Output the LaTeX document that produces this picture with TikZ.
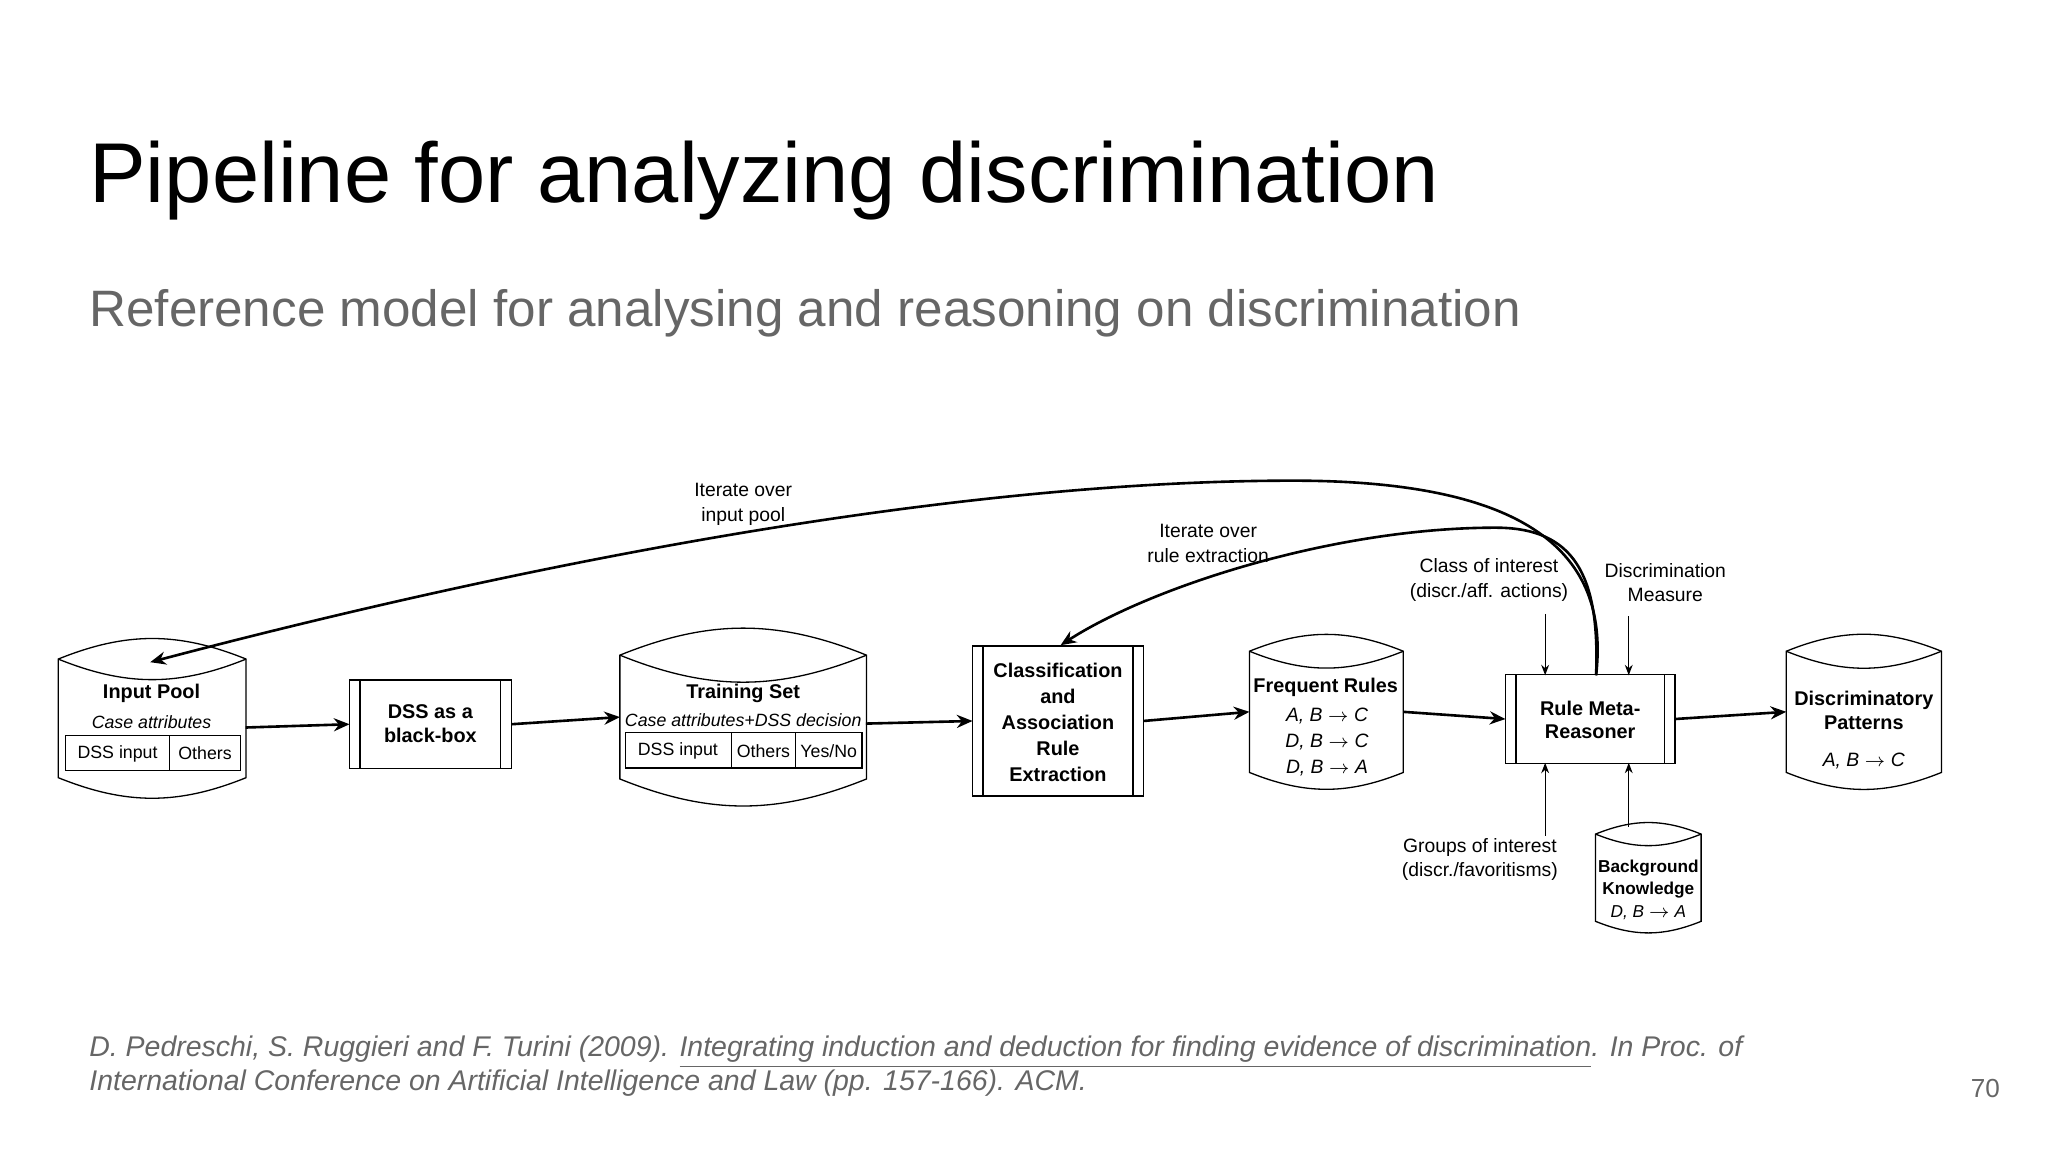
\documentclass[tikz,border=0pt]{standalone}
\usepackage{fontspec}
\setmainfont{Liberation Sans}
\usetikzlibrary{arrows.meta,calc}
\definecolor{gr}{HTML}{666666}
\begin{document}
\begin{tikzpicture}[x=0.5pt,y=-0.5pt,
  box/.style n args={2}{draw=none,inner sep=0,minimum width=#1*0.5pt,minimum height=#2*0.5pt},
  lbl/.style={font=\fontsize{7.6}{9}\selectfont\bfseries,align=center,inner sep=0},
  sub/.style={font=\fontsize{6.8}{8.5}\selectfont,align=center,inner sep=0},
  main/.style={line width=1pt,-{Stealth[length=6pt,width=5pt]}},
  thin/.style={line width=0.5pt,-{Stealth[length=4pt,width=3pt]}},
  outl/.style={line width=0.5pt}]
\useasboundingbox (0,0) rectangle (1568,882);
% title
\node[anchor=base west,inner sep=0,font=\fontsize{32.5}{38}\selectfont] (title) at (68,155) {Pipeline for analyzing discrimination};
\node[anchor=base west,inner sep=0,text=gr,font=\fontsize{19.6}{23}\selectfont] (subt) at (68,250) {Reference model for analysing and reasoning on discrimination};
\node[anchor=base west,inner sep=0,text=gr,align=left,font=\fontsize{10.9}{13}\selectfont\itshape] (foot) at (68,835) {D. Pedreschi, S. Ruggieri and F. Turini (2009). \underline{Integrating induction and deduction for finding evidence of discrimination}. In Proc. of\\International Conference on Artificial Intelligence and Law (pp. 157-166). ACM.};
\node[anchor=base,inner sep=0,text=gr,font=\fontsize{10}{12}\selectfont] (pg) at (1520,840) {70};
% helpers
\newcommand{\drumdraw}[1]{\draw[outl] (#1.north west) to[bend left=22] (#1.north east) -- (#1.south east) to[bend left=22] (#1.south west) -- cycle;
 \draw[outl] (#1.north west) to[bend right=22] (#1.north east);}
\newcommand{\procdraw}[1]{\draw[outl] (#1.north west) rectangle (#1.south east);
 \draw[outl] ($(#1.north west)+(8,0)$) -- ($(#1.south west)+(8,0)$);
 \draw[outl] ($(#1.north east)+(-8,0)$) -- ($(#1.south east)+(-8,0)$);}
% Input pool
\node[box={143}{90}] (ip) at (116.5,550) {}; \drumdraw{ip}
\node[lbl] (ipt) at (116,531) {Input Pool};
\node[sub,font=\fontsize{6.8}{8}\selectfont\itshape] (ipc) at (116,553) {Case attributes};
\draw[outl] (50,563) rectangle (184,590); \draw[outl] (130,563)--(130,590);
\node[sub] (ipd) at (90,577) {DSS input}; \node[sub] (ipo) at (157,577) {Others};
% DSS
\node[box={123}{67}] (dss) at (329.5,554.5) {}; \procdraw{dss}
\node[lbl] (dsst) at (329.5,554) {DSS as a\\black-box};
% Training set
\node[box={188}{94}] (ts) at (569,549) {}; \drumdraw{ts}
\node[lbl] (tst) at (569,531) {Training Set};
\node[sub,font=\fontsize{6.8}{8}\selectfont\itshape] (tsc) at (569,551) {Case attributes+DSS decision};
\draw[outl] (479,561) rectangle (660,588); \draw[outl] (560,561)--(560,588); \draw[outl] (609,561)--(609,588);
\node[sub] (tsd) at (519,575) {DSS input}; \node[sub] (tso) at (584.5,575) {Others}; \node[sub] (tsy) at (634.5,575) {Yes/No};
% Classification
\node[box={130}{114}] (ca) at (810,552) {}; \procdraw{ca}
\node[lbl,font=\fontsize{7.6}{10}\selectfont\bfseries] (cat) at (810,553) {Classification\\and\\Association\\Rule\\Extraction};
% Frequent rules
\node[box={117}{92}] (fr) at (1015.5,545) {}; \drumdraw{fr}
\node[lbl] (frt) at (1015,526) {Frequent Rules};
\node[sub,font=\fontsize{7.4}{10}\selectfont\itshape] (frr) at (1016,568) {A, B $\rightarrow$ C\\D, B $\rightarrow$ C\\D, B $\rightarrow$ A};
% Rule meta reasoner
\node[box={129}{67}] (rmr) at (1217.5,550.5) {}; \procdraw{rmr}
\node[lbl] (rmrt) at (1217.5,551) {Rule Meta-\\Reasoner};
% Discriminatory patterns
\node[box={118}{92}] (dp) at (1427,545) {}; \drumdraw{dp}
\node[lbl] (dpt) at (1427,544) {Discriminatory\\Patterns};
\node[sub,font=\fontsize{7.4}{9}\selectfont\itshape] (dpr) at (1427,583) {A, B $\rightarrow$ C};
% Background knowledge
\node[box={80}{66}] (bk) at (1262,672) {}; \drumdraw{bk}
\node[lbl,font=\fontsize{6.6}{8.5}\selectfont\bfseries] (bkt) at (1262,673) {Background\\Knowledge};
\node[sub,font=\fontsize{6.6}{8}\selectfont\itshape] (bkr) at (1262,699) {D, B $\rightarrow$ A};
% labels
\node[sub,font=\fontsize{7.4}{9.5}\selectfont] (coi) at (1140,444) {Class of interest\\(discr./aff. actions)};
\node[sub,font=\fontsize{7.4}{9.5}\selectfont] (dm) at (1275,446) {Discrimination\\Measure};
\node[sub,font=\fontsize{7.4}{9.5}\selectfont] (goi) at (1133,658) {Groups of interest\\(discr./favoritisms)};
\node[sub,font=\fontsize{7.4}{9.5}\selectfont] (itp) at (569,386) {Iterate over\\input pool};
\node[sub,font=\fontsize{7.4}{9.5}\selectfont] (itr) at (925,416) {Iterate over\\rule extraction};
% main arrows
\draw[main] (188,557) -- (dss.west);
\draw[main] (dss.east) -- (ts.west);
\draw[main] (663,554) -- (ca.west);
\draw[main] (ca.east) -- (fr.west);
\draw[main] (fr.east) -- (rmr.west);
\draw[main] (rmr.east) -- (dp.west);
% small arrows
\draw[thin] (1183,470) -- (1183,517);
\draw[thin] (1247,472) -- (1247,517);
\draw[thin] (1183,640) -- (1183,584);
\draw[thin] (1247,633) -- (1247,584);
% feedback curves
\coordinate (s) at (1222,517);
\coordinate (ipin) at (115,507);
\coordinate (cain) at (812,494);
\draw[main] (s) .. controls (1232,430) and (1180,368) .. (990,368) .. controls (700,368) and (350,445) .. (ipin);
\draw[main] (s) .. controls (1225,440) and (1205,404) .. (1145,404) .. controls (1020,404) and (880,450) .. (cain);
\end{tikzpicture}
\end{document}
